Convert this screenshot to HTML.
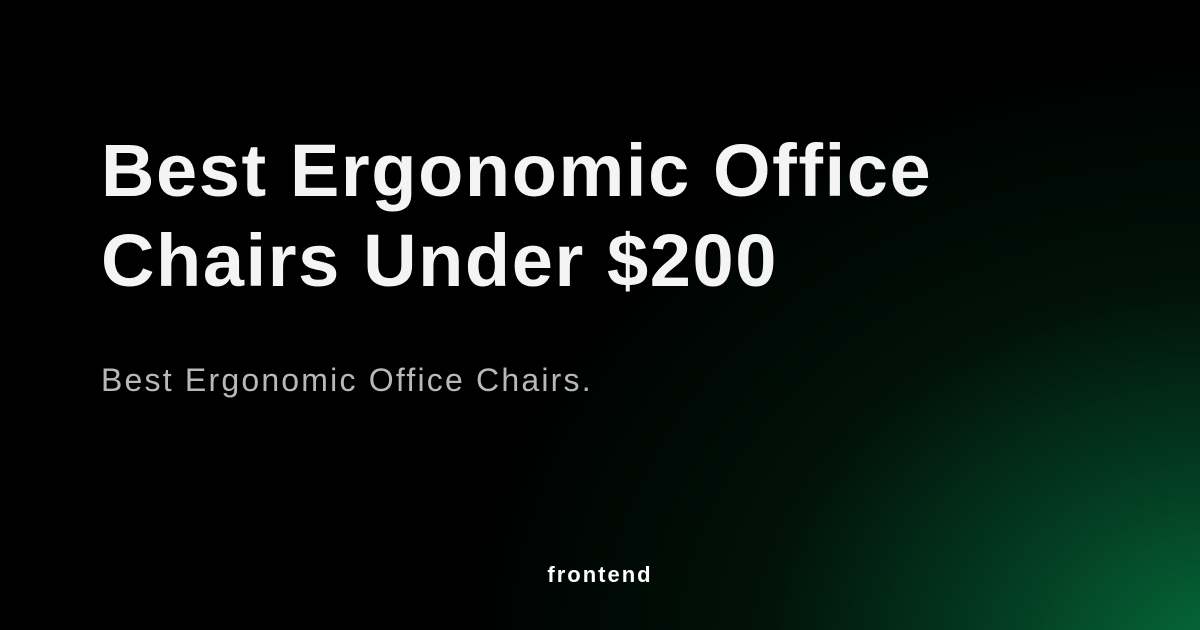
<!DOCTYPE html>
<html>
<head>
<meta charset="utf-8">
<style>
  html,body{margin:0;padding:0;}
  body{width:1200px;height:630px;overflow:hidden;position:relative;
    background:#000;
    font-family:"Liberation Sans",sans-serif;}
  .bg{position:absolute;inset:0;
    background:
      radial-gradient(ellipse 780px 620px at 1230px 660px, rgba(6,110,60,1) 0%, rgba(4,80,44,0.75) 30%, rgba(2,40,22,0.45) 60%, rgba(0,0,0,0) 100%),
      #000;}
  .title{position:absolute;left:101px;top:126px;margin:0;color:#f4f4f4;
    font-weight:700;font-size:74px;line-height:90px;letter-spacing:1.6px;}
  .sub{position:absolute;left:101px;top:360px;margin:0;color:#b8b8b8;
    font-size:32px;line-height:40px;letter-spacing:2.2px;}
  .logo{position:absolute;left:0;width:1200px;top:561px;text-align:center;
    color:#fff;font-weight:700;font-size:22px;line-height:28px;letter-spacing:2px;}
</style>
</head>
<body>
<div class="bg"></div>
<h1 class="title">Best Ergonomic Office<br>Chairs Under $200</h1>
<p class="sub">Best Ergonomic Office Chairs.</p>
<div class="logo">frontend</div>
</body>
</html>
